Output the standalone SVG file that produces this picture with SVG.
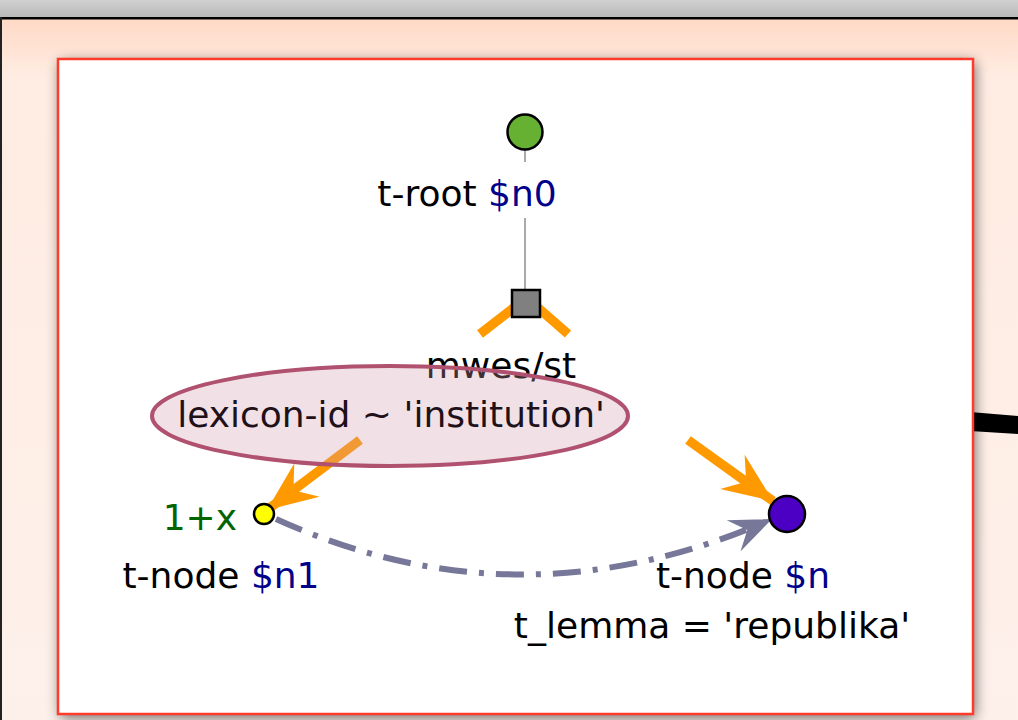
<svg xmlns="http://www.w3.org/2000/svg" width="1018" height="720" viewBox="0 0 1018 720">
<defs>
<linearGradient id="topbar" x1="0" y1="0" x2="0" y2="1"><stop offset="0" stop-color="#d0d0d0"/><stop offset="1" stop-color="#b8b8b8"/></linearGradient>
<linearGradient id="bg" x1="0" y1="0" x2="0" y2="1"><stop offset="0" stop-color="#ffd9c6"/><stop offset="0.08" stop-color="#ffece2"/><stop offset="1" stop-color="#fdf0ea"/></linearGradient>
<filter id="shadow" x="-10%" y="-10%" width="120%" height="120%"><feGaussianBlur stdDeviation="7"/></filter>
<marker id="arrO" markerUnits="userSpaceOnUse" viewBox="-50 -22 52 44" refX="0" refY="0" markerWidth="52" markerHeight="44" orient="auto"><path d="M0,0 L-50,-21 L-33,0 L-50,21 Z" fill="#ff9900"/></marker>
<marker id="arrG" markerUnits="userSpaceOnUse" viewBox="-44 -19 46 38" refX="0" refY="0" markerWidth="46" markerHeight="38" orient="auto"><path d="M0,0 L-42,-17 L-27,0 L-42,17 Z" fill="#777799"/></marker>
<style>
.t{font-family:"DejaVu Sans",sans-serif;font-size:36px;fill:#000}
.v{fill:#00008b}
.orange{stroke:#ff9900;stroke-width:9.5;fill:none}
.node{stroke:#000;stroke-width:2.5}
</style>
</defs>
<rect x="0" y="0" width="1018" height="18" fill="url(#topbar)"/>
<rect x="0" y="19" width="1018" height="701" fill="url(#bg)"/>
<rect x="0" y="17" width="1018" height="2.5" fill="#000"/>
<rect x="0" y="17" width="2" height="703" fill="#222"/>
<rect x="60" y="62" width="915" height="656" fill="#000" opacity="0.55" filter="url(#shadow)"/>
<polygon points="970,412 1018,416 1018,434 970,431" fill="#000"/>
<rect x="58" y="59" width="915" height="655" fill="#fff" stroke="#ff3b2b" stroke-width="2.5"/>
<g id="connectors">
<line x1="525" y1="150" x2="525" y2="162" stroke="#aaaaaa" stroke-width="2"/>
<line x1="525" y1="218" x2="525" y2="289" stroke="#aaaaaa" stroke-width="2"/>
<line class="orange" x1="516" y1="306" x2="480" y2="334"/>
<line class="orange" x1="536" y1="306" x2="568" y2="334"/>
<line class="orange" x1="360" y1="440" x2="267" y2="510" marker-end="url(#arrO)"/>
<line class="orange" x1="688" y1="440" x2="773" y2="501" marker-end="url(#arrO)"/>
<path d="M276,519 Q520,630 772,519" fill="none" stroke="#777799" stroke-width="6" stroke-dasharray="28 12 5 12" marker-end="url(#arrG)"/>
</g>
<g id="n0">
<circle class="node" cx="525" cy="132" r="17.5" fill="#66b032"/>
<text class="t" x="467" y="206" text-anchor="middle">t-root <tspan class="v">$n0</tspan></text>
</g>
<g id="mwes">
<rect class="node" x="512" y="290" width="28" height="27" fill="#808080" stroke-width="2"/>
<text class="t" x="501" y="378" text-anchor="middle">mwes/st</text>
<ellipse cx="390" cy="416" rx="238" ry="50" fill="#d09bac" fill-opacity="0.3" stroke="#b0516f" stroke-width="4"/>
<text class="t" x="391" y="427" text-anchor="middle" style="fill:#201018">lexicon-id ~ 'institution'</text>
</g>
<g id="n1">
<circle class="node" cx="264" cy="514" r="10" fill="#ffff00"/>
<text class="t" x="237" y="530" text-anchor="end" style="fill:#006400">1+x</text>
<text class="t" x="221" y="588" text-anchor="middle">t-node <tspan class="v">$n1</tspan></text>
</g>
<g id="n">
<circle class="node" cx="787" cy="514" r="18" fill="#4b00c4"/>
<text class="t" x="743" y="588" text-anchor="middle">t-node <tspan class="v">$n</tspan></text>
<text class="t" x="712" y="638" text-anchor="middle">t_lemma = 'republika'</text>
</g>
</svg>
